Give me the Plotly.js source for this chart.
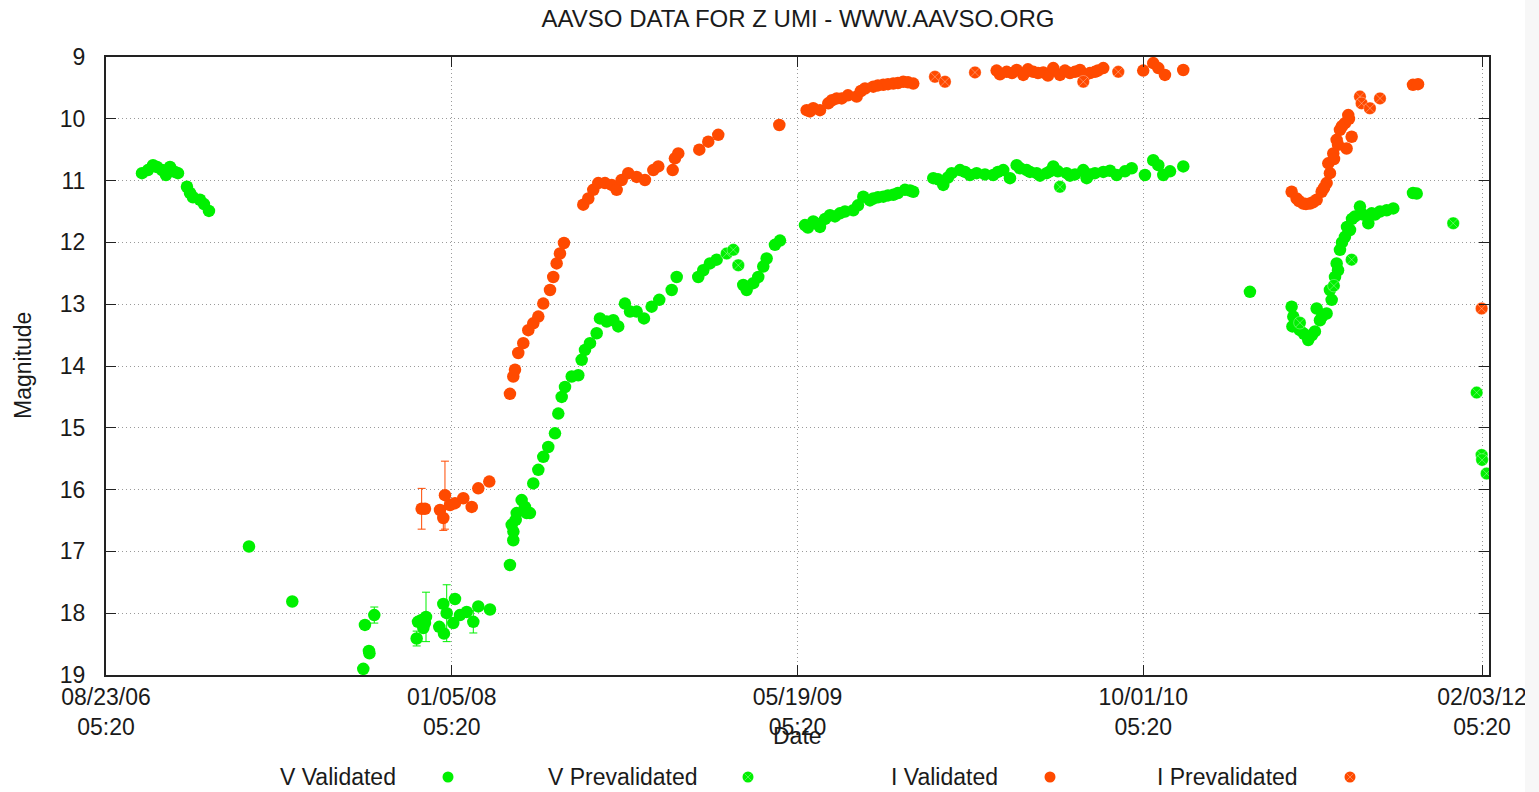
<!DOCTYPE html>
<html>
<head>
<meta charset="utf-8">
<script src="https://cdn.plot.ly/plotly-3.0.1.min.js"></script>
<style>
html,body{margin:0;padding:0;background:#f7f7f7;}
#chart{width:1525px;height:792px;background:#ffffff;overflow:hidden;}
</style>
</head>
<body>
<div id="chart"></div>
<script>
// ---- Data (Julian Date, magnitude) ----
const vValJD = [2454022.8,2454031.4,2454038.7,2454044.5,2454051.7,2454057.5,2454063.3,2454070.5,2454074.8,2454087.8,2454092.2,2454096.5,2454106.6,2454112.4,2454119.6,
2454177.5,2454240.1,2454342.8,2454345.2,2454351.0,2454351.7,2454358.7,2454420.0,2454421.9,2454427.2,2454429.6,2454432.0,2454433.5,2454452.7,2454458.5,2454459.5,2454463.4,2454472.9,2454475.4,2454482.6,2454492.3,2454501.9,2454509.1,2454526.0,
2454554.9,2454557.4,2454559.7,2454559.9,2454563.2,2454564.6,2454571.8,2454576.6,2454579.1,2454583.8,2454588.6,2454595.9,2454603.1,2454610.3,2454620.0,2454624.8,2454629.7,2454634.5,2454644.2,2454653.7,2454658.6,2454663.4,2454670.6,2454680.3,2454685.1,2454694.8,2454704.3,2454711.5,2454721.2,2454728.5,2454738.1,2454748.7,2454759.8,2454770.8,2454788.8,2454796.0,2454827.2,2454834.5,2454844.1,2454853.8,2454892.3,2454897.2,2454906.8,2454914.0,2454921.2,2454926.1,2454938.1,2454945.4,
2454981.5,2454985.8,2454993.5,2455003.2,2455017.7,2455024.9,2455032.1,2455051.4,2455065.8,2455075.5,2455080.3,2455094.8,2455109.2,2455116.0,2455126.1,2455138.1,2455167.1,2455181.5,2455193.6,2455205.7,2455220.1,2455229.8,2455253.8,2455260.6,2455268.3,2455278.0,2455287.7,2455292.5,2455302.1,2455316.6,2455321.4,2455331.0,2455340.6,2455347.3,2455360.0,2455372.0,2455384.0,2455388.9,2455400.9,2455412.9,2455432.3,2455454.0,2455473.2,2455485.2,2455492.5,2455499.7,2455528.6,
2455625.0,2455685.3,2455687.7,2455686.4,2455697.3,2455709.3,2455719.0,2455726.3,2455721.5,2455735.9,2455743.2,2455740.7,2455748.0,2455750.4,2455755.2,2455762.4,2455769.7,2455776.9,2455784.1,2455796.2,2455801.1,2455813.1,2455822.8,2455832.3,2455860.8,2455866.2,
2454999.1,2455010.7,2455039.4,2455058.2,2455087.1,2455101.6,2455133.4,2455173.9,2455188.3,2455212.9,2455241.8,2455306.9,2455335.8,2455364.7,2455393.7,2455422.6,2455444.3,2455509.4,
2455690.2,2455703.2,2455714.8,2455729.2,2455752.4,2455758.1,2455765.4,2455772.6,2455788.5,2455805.9];
const vValMag = [10.88,10.83,10.75,10.78,10.83,10.91,10.78,10.86,10.88,11.10,11.20,11.27,11.31,11.38,11.49,
16.92,17.81,18.90,18.19,18.61,18.65,18.03,18.41,18.14,18.11,18.24,18.16,18.06,18.22,17.85,18.33,18.00,18.16,17.77,18.03,17.98,18.14,17.89,17.94,
17.22,16.57,16.82,16.68,16.49,16.38,16.17,16.28,16.38,16.38,15.90,15.68,15.47,15.31,15.09,14.77,14.50,14.34,14.17,14.15,13.90,13.74,13.63,13.47,13.23,13.28,13.26,13.36,12.99,13.12,13.12,13.23,13.04,12.93,12.77,12.56,12.56,12.45,12.34,12.28,12.69,12.77,12.66,12.56,12.39,12.26,12.04,11.97,
11.72,11.76,11.66,11.75,11.56,11.58,11.53,11.48,11.26,11.32,11.29,11.26,11.23,11.20,11.15,11.18,10.96,11.07,10.88,10.83,10.91,10.88,10.91,10.86,10.83,10.96,10.75,10.80,10.83,10.88,10.92,10.88,10.77,10.85,10.88,10.90,10.83,10.96,10.88,10.86,10.91,10.80,10.91,10.67,10.75,10.91,10.77,
12.80,13.04,13.20,13.36,13.42,13.58,13.44,13.26,13.07,13.15,12.93,12.77,12.56,12.34,12.12,11.91,11.80,11.58,11.42,11.69,11.53,11.50,11.48,11.45,11.20,11.21,
11.70,11.62,11.50,11.40,11.27,11.24,11.16,10.98,10.95,10.86,10.90,10.86,10.85,10.92,10.90,10.84,10.85,10.85,
13.30,13.48,13.50,13.20,12.45,12.00,11.75,11.62,11.55,11.55];
const vValErr = vValJD.map(function(){return null;});
const vErrIdx = [21,22,27,31,36];
const vErrVal = [0.13,0.12,0.40,0.46,0.18];

const vPreJD = [2454868.3,2454877.9,2454885.1,2455350.3,2455697.3,2455746.4,2455772.1,2455919.0,2455952.9,2455960.1,2455960.7,2455967.3];
const vPreMag = [12.18,12.12,12.37,11.10,13.30,12.70,12.28,11.69,14.43,15.44,15.52,15.74];

const iValJD = [2454427.2,2454432.0,2454453.7,2454458.5,2454460.9,2454468.2,2454475.4,2454487.4,2454499.6,2454509.1,2454525.0,
2454554.9,2454559.7,2454562.2,2454566.9,2454574.2,2454581.4,2454588.6,2454595.9,2454603.1,2454612.8,2454617.5,2454622.4,2454627.2,2454633.0,
2454660.9,2454668.2,2454675.4,2454682.6,2454692.3,2454702.0,2454709.2,2454716.5,2454726.0,2454738.1,2454750.1,2454762.2,2454769.4,2454790.2,2454793.5,2454798.3,2454828.7,2454841.7,2454856.1,2454944.4,
2454984.0,2454988.7,2454993.5,2455003.2,2455015.2,2455027.4,2455034.6,2455043.7,2455056.3,2455068.3,2455080.3,2455087.0,2455094.8,2455109.2,2455116.0,2455123.7,2455138.1,
2455258.7,2455263.5,2455273.2,2455287.7,2455297.2,2455304.0,2455311.7,2455326.1,2455332.9,2455340.6,2455350.3,2455357.5,2455364.7,2455379.2,2455393.7,2455400.9,2455412.9,2455470.7,2455485.2,2455492.5,2455502.1,2455528.6,
2455685.3,2455692.5,2455702.1,2455711.8,2455721.5,2455728.7,2455735.9,2455740.7,2455738.3,2455745.5,2455750.4,2455755.2,2455762.4,2455767.2,2455772.1,2455764.8,2455860.8,2455868.1,
2455695.8,2455706.0,2455716.2,2455732.1,2455746.6,2455752.4,2455758.1,2455768.2,
2455020.6,2455062.5,2455101.6,2455130.5,2455280.9,2455318.5,2455372.0,2455386.4,2455405.2];
const iValMag = [16.31,16.31,16.33,16.46,16.09,16.25,16.22,16.14,16.28,15.98,15.87,
14.45,14.17,14.06,13.79,13.63,13.42,13.31,13.20,12.99,12.77,12.56,12.34,12.18,12.01,
11.39,11.29,11.15,11.04,11.04,11.07,11.15,10.99,10.88,10.94,10.99,10.83,10.77,10.83,10.64,10.56,10.50,10.37,10.26,10.10,
9.86,9.88,9.83,9.86,9.75,9.67,9.67,9.62,9.64,9.51,9.48,9.46,9.45,9.43,9.42,9.40,9.43,
9.22,9.28,9.24,9.21,9.29,9.20,9.24,9.25,9.30,9.18,9.29,9.22,9.26,9.21,9.26,9.24,9.18,9.22,9.10,9.18,9.29,9.21,
11.18,11.29,11.37,11.37,11.31,11.18,11.04,10.88,10.72,10.56,10.34,10.18,10.07,9.94,10.29,10.48,9.45,9.44,
11.33,11.38,11.35,11.12,10.65,10.42,10.12,10.00,
9.70,9.55,9.44,9.41,9.26,9.26,9.24,9.30,9.22];
const iValErr = iValJD.map(function(){return null;});
const iErrIdx = [0,3,4];
const iErrVal = [0.33,0.20,0.55];

const iPreJD = [2455169.5,2455184.0,2455227.4,2455384.0,2455434.6,2455784.1,2455786.5,2455798.5,2455813.1,2455960.1];
const iPreMag = [9.32,9.40,9.25,9.40,9.24,9.64,9.75,9.83,9.67,13.07];

const tickVals = ['2006-08-23 05:20','2008-01-05 05:20','2009-05-19 05:20','2010-10-01 05:20','2012-02-03 05:20'];
const tickText = ['08/23/06<br>05:20','01/05/08<br>05:20','05/19/09<br>05:20','10/01/10<br>05:20','02/03/12<br>05:20'];
const xRange = ['2006-08-23 05:20','2012-02-13 05:20'];
const magTicks = [9,10,11,12,13,14,15,16,17,18,19];
const legendNames = ['V Validated','V Prevalidated','I Validated','I Prevalidated'];

vErrIdx.forEach(function(k,j){vValErr[k]=vErrVal[j];});
iErrIdx.forEach(function(k,j){iValErr[k]=iErrVal[j];});

function jdToDate(jd){
  const d = new Date((jd-2440587.5)*86400000);
  return d.toISOString().slice(0,19).replace('T',' ');
}

const GREEN = '#00f000';
const RED = '#ff4a00';
const FONT = '"Liberation Sans", Arial, sans-serif';
const TXT = '#1a1a1a';
const MS = 12.5;

const traces = [
  {x: vValJD.map(jdToDate), y: vValMag, type:'scatter', mode:'markers', name: legendNames[0],
   marker:{color:GREEN, size:MS, line:{width:0}},
   error_y:{type:'data', array:vValErr, visible:true, color:GREEN, thickness:1, width:4}},
  {x: vPreJD.map(jdToDate), y: vPreMag, type:'scatter', mode:'markers', name: legendNames[1],
   marker:{color:GREEN, size:MS, symbol:'circle-x', line:{width:0.6, color:'rgba(255,255,255,0.55)'}}},
  {x: iValJD.map(jdToDate), y: iValMag, type:'scatter', mode:'markers', name: legendNames[2],
   marker:{color:RED, size:MS, line:{width:0}},
   error_y:{type:'data', array:iValErr, visible:true, color:RED, thickness:1, width:4}},
  {x: iPreJD.map(jdToDate), y: iPreMag, type:'scatter', mode:'markers', name: legendNames[3],
   marker:{color:RED, size:MS, symbol:'circle-x', line:{width:0.6, color:'rgba(255,255,255,0.55)'}}}
];

// layout helpers (pixel -> paper)
const L=106, R=1489, T=57, B=675;
function px(p){return (p-L)/(R-L);}
function py(p){return (B-p)/(B-T);}

const legendTextRight = [398,700,1000,1300];
const legendMarkX = [448,748,1050,1350];
const legendColors = [GREEN,GREEN,RED,RED];
const legendY = 777;

const annotations = [
  {text:'Date', xref:'paper', yref:'paper', x:px(797), y:py(736), xanchor:'center', yanchor:'middle', showarrow:false, font:{family:FONT, size:23, color:TXT}},
  {text:'Magnitude', xref:'paper', yref:'paper', x:px(23), y:py(366), xanchor:'center', yanchor:'middle', textangle:-90, showarrow:false, font:{family:FONT, size:23, color:TXT}}
];
const shapes = [];
legendNames.forEach(function(n,i){
  annotations.push({text:n, xref:'paper', yref:'paper', x:px(legendTextRight[i]), y:py(legendY), xanchor:'right', yanchor:'middle', showarrow:false, font:{family:FONT, size:23, color:TXT}});
  shapes.push({type:'circle', xref:'paper', yref:'paper', xsizemode:'pixel', ysizemode:'pixel', xanchor:px(legendMarkX[i]), yanchor:py(legendY), x0:-5.5, x1:5.5, y0:-5.5, y1:5.5, fillcolor:legendColors[i], line:{width:0}});
  if(i===1||i===3){
    shapes.push({type:'path', xref:'paper', yref:'paper', xsizemode:'pixel', ysizemode:'pixel', xanchor:px(legendMarkX[i]), yanchor:py(legendY), path:'M-3.5,-3.5L3.5,3.5M-3.5,3.5L3.5,-3.5', line:{width:0.6, color:'rgba(255,255,255,0.55)'}});
  }
});

const layout = {
  width:1525, height:792,
  paper_bgcolor:'#ffffff', plot_bgcolor:'#ffffff',
  margin:{l:L, r:1525-R, t:T, b:792-B, pad:0},
  showlegend:false,
  title:{text:'AAVSO DATA FOR Z UMI - WWW.AAVSO.ORG', x:px(798), xref:'paper', xanchor:'center', y:1-19/792, yref:'container', yanchor:'middle', font:{family:FONT, size:24, color:TXT}},
  font:{family:FONT, size:23, color:TXT},
  xaxis:{type:'date', range:xRange, tickvals:tickVals, ticktext:tickText, ticks:'inside', ticklen:10, tickwidth:1.2, tickcolor:'#222',
         showline:true, linecolor:'#222', linewidth:2, mirror:'allticks', showgrid:true, gridcolor:'#9a9a9a', griddash:'1px,3px', gridwidth:1,
         zeroline:false, tickfont:{family:FONT, size:23, color:TXT}, ticklabelstandoff:0, ticklabeloverflow:'allow', automargin:false},
  yaxis:{range:[19,9], tickvals:magTicks, ticks:'inside', ticklen:10, tickwidth:1.2, tickcolor:'#222',
         showline:true, linecolor:'#222', linewidth:2, mirror:'allticks', showgrid:true, gridcolor:'#9a9a9a', griddash:'1px,3px', gridwidth:1,
         zeroline:false, tickfont:{family:FONT, size:23, color:TXT}, ticklabelstandoff:14, automargin:false},
  annotations:annotations,
  shapes:shapes
};

Plotly.newPlot('chart', traces, layout, {displayModeBar:false, responsive:false});
</script>
</body>
</html>
